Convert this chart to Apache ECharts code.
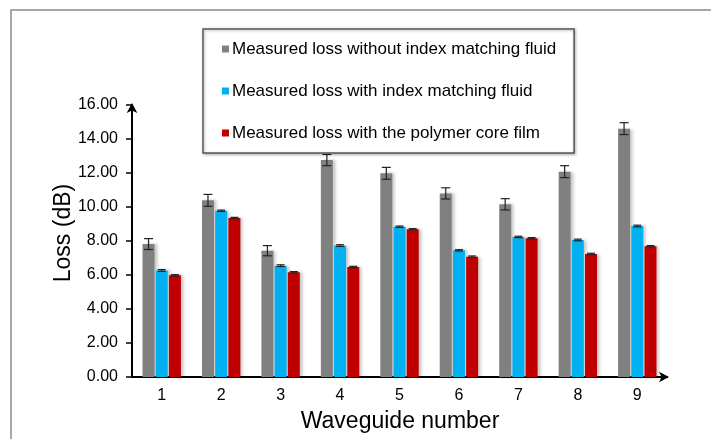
<!DOCTYPE html>
<html>
<head>
<meta charset="utf-8">
<script src="https://cdn.jsdelivr.net/npm/echarts@6/dist/echarts.min.js"></script>
<style>
html,body{margin:0;padding:0;background:#fff;}
#chart{width:711px;height:439px;}
</style>
</head>
<body>
<div id="chart"></div>
<script>
var categories = ['1','2','3','4','5','6','7','8','9'];
var seriesNames = [
  'Measured loss without index matching fluid',
  'Measured loss with index matching fluid',
  'Measured loss with the polymer core film'
];
var lossNoFluid = [7.82, 10.39, 7.43, 12.76, 11.98, 10.80, 10.16, 12.08, 14.61];
var errNoFluid = [0.32, 0.35, 0.30, 0.33, 0.35, 0.33, 0.33, 0.35, 0.35];
var lossWithFluid = [6.27, 9.78, 6.55, 7.73, 8.84, 7.45, 8.24, 8.06, 8.88];
var errWithFluid = [0.05, 0.04, 0.05, 0.05, 0.04, 0.04, 0.04, 0.05, 0.05];
var lossPolymer = [5.98, 9.35, 6.16, 6.47, 8.69, 7.08, 8.16, 7.24, 7.69];
var errPolymer = [0.04, 0.04, 0.04, 0.04, 0.04, 0.04, 0.04, 0.04, 0.04];
var yTicks = [0, 2, 4, 6, 8, 10, 12, 14, 16];

var colors = ['#808080', '#00B0F0', '#C00000'];
var FONT = '"Liberation Sans", Arial, sans-serif';
var BAR_W = 12, BAR_GAP = 0.1;

var chart = echarts.init(document.getElementById('chart'));

function barSeries(name, data, color) {
  return {
    name: name, type: 'bar', data: data,
    barWidth: BAR_W, barGap: (BAR_GAP * 100) + '%',
    itemStyle: { color: color, shadowColor: 'rgba(0,0,0,0.22)', shadowBlur: 3, shadowOffsetX: 3, shadowOffsetY: 0 },
    z: 2
  };
}
function errSeries(vals, errs, slot, capW) {
  var data = vals.map(function (v, i) { return [i, v - errs[i], v + errs[i]]; });
  return {
    type: 'custom', z: 5,
    data: data,
    encode: { x: 0, y: [1, 2] },
    renderItem: function (params, api) {
      var off = (slot - 1) * BAR_W * (1 + BAR_GAP);
      var lo = api.coord([api.value(0), api.value(1)]);
      var hi = api.coord([api.value(0), api.value(2)]);
      var x = lo[0] + off;
      var st = { stroke: '#222', lineWidth: 1.2 };
      return {
        type: 'group',
        children: [
          { type: 'line', shape: { x1: x, y1: lo[1], x2: x, y2: hi[1] }, style: st },
          { type: 'line', shape: { x1: x - capW / 2, y1: lo[1], x2: x + capW / 2, y2: lo[1] }, style: st },
          { type: 'line', shape: { x1: x - capW / 2, y1: hi[1], x2: x + capW / 2, y2: hi[1] }, style: st }
        ]
      };
    }
  };
}

chart.setOption({
  backgroundColor: '#fff',
  animation: false,
  textStyle: { fontFamily: FONT },
  color: colors,
  graphic: [
    { type: 'rect', shape: { x: 11, y: 10, width: 800, height: 500 }, style: { fill: 'none', stroke: '#8c8c8c', lineWidth: 1.5 }, z: 0 },
    { type: 'text', x: 64, y: 233, rotation: Math.PI / 2, style: { text: 'Loss (dB)', font: '23px ' + FONT, fill: '#000', textAlign: 'center', textVerticalAlign: 'middle' } },
    { type: 'text', x: 400, y: 422, style: { text: 'Waveguide number', font: '23px ' + FONT, fill: '#000', textAlign: 'center', textVerticalAlign: 'middle' } }
  ],
  legend: {
    data: seriesNames,
    orient: 'vertical',
    left: 203, top: 29,
    padding: [10, 18, 10, 19],
    itemGap: 22,
    itemWidth: 7, itemHeight: 7,
    icon: 'rect',
    textStyle: { fontSize: 17, color: '#000', fontFamily: FONT, padding: [0, 0, 0, -2], lineHeight: 20 },
    backgroundColor: '#fff',
    borderColor: '#555', borderWidth: 1.5,
    shadowColor: 'rgba(0,0,0,0.3)', shadowBlur: 3, shadowOffsetX: 1, shadowOffsetY: 1,
    z: 10
  },
  grid: { left: 132, right: 44, top: 105, bottom: 62, containLabel: false },
  xAxis: {
    type: 'category', data: categories,
    axisLine: { lineStyle: { color: '#000', width: 2 }, symbol: ['none', 'arrow'], symbolSize: [8, 10], symbolOffset: [0, 2] },
    axisTick: { show: false },
    axisLabel: { color: '#000', fontSize: 16, margin: 11, fontFamily: FONT },
    splitLine: { show: false }
  },
  yAxis: {
    type: 'value', min: yTicks[0], max: yTicks[yTicks.length - 1], interval: yTicks[1] - yTicks[0],
    axisLine: { show: true, lineStyle: { color: '#000', width: 2 }, symbol: ['none', 'arrow'], symbolSize: [8, 10], symbolOffset: [0, 2] },
    axisTick: { show: true, length: 6, lineStyle: { color: '#000', width: 1.5 } },
    axisLabel: { color: '#000', fontSize: 16, margin: 14, fontFamily: FONT, formatter: function (v) { return v.toFixed(2); } },
    splitLine: { show: false }
  },
  series: [
    barSeries(seriesNames[0], lossNoFluid, colors[0]),
    barSeries(seriesNames[1], lossWithFluid, colors[1]),
    barSeries(seriesNames[2], lossPolymer, colors[2]),
    errSeries(lossNoFluid, errNoFluid, 0, 9),
    errSeries(lossWithFluid, errWithFluid, 1, 8),
    errSeries(lossPolymer, errPolymer, 2, 8)
  ]
});
</script>
</body>
</html>
